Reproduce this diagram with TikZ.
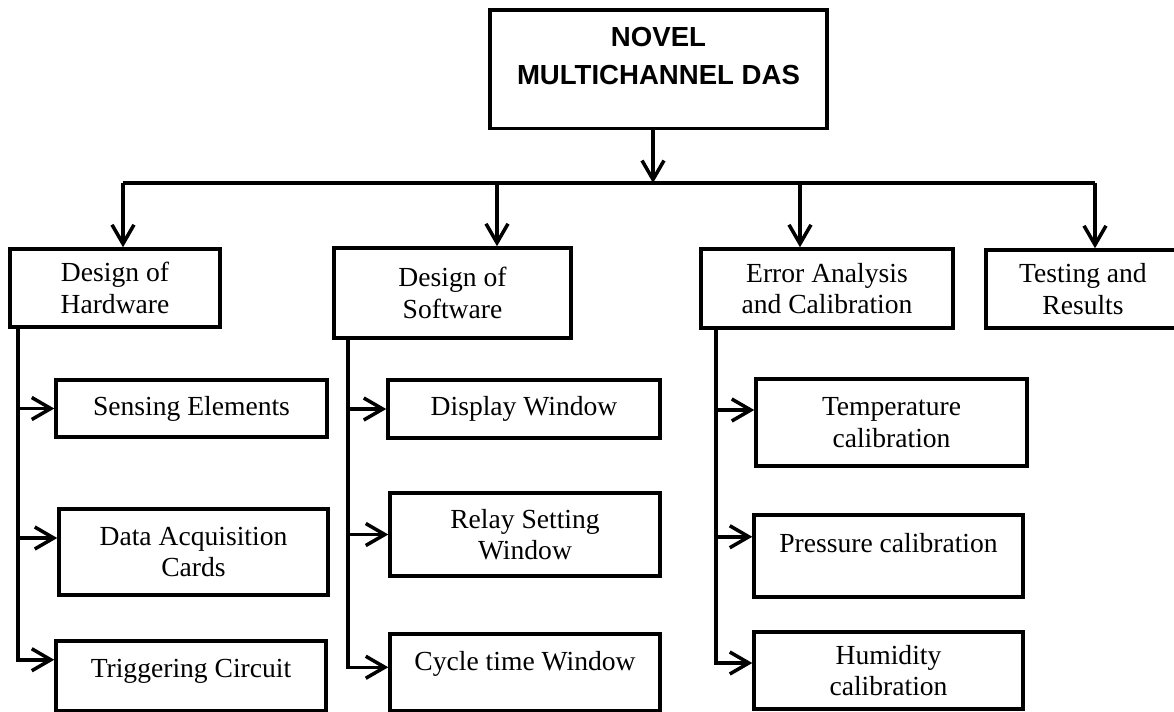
\documentclass[tikz,border=0pt]{standalone}
\usepackage{fontspec}
\setmainfont{Liberation Serif}
\newfontfamily\headfont{Liberation Sans}
\usetikzlibrary{arrows.meta}
\tikzset{
        % Plain boxes
        box/.style={draw, line width=2pt, align=center, inner sep=0pt, font=\fontsize{15.7}{18}\selectfont},
        % Title box
        box_title/.style={box, font=\headfont\bfseries\fontsize{15.7}{21.6}\selectfont},
        % Connectors
        link/.style={line width=2pt},
        link_arrow/.style={link, -{Straight Barb[length=3.8mm, width=4.4mm]}}
}
\begin{document}
\begin{tikzpicture}[x=0.02cm, y=-0.02cm]
    \useasboundingbox (0,0) rectangle (1174,711);
    % top box
    \node[box_title, anchor=north, minimum width=6.74cm, text height=1.5cm, text depth=0.88cm] (das) at (658.5,8) {NOVEL\\MULTICHANNEL DAS};
    % second row
    \node[box, minimum width=4.2cm, minimum height=1.56cm] (hw) at (115,288) {Design of\\Hardware};
    \node[box, minimum width=4.74cm, minimum height=1.8cm] (sw) at (452.5,293) {Design of\\Software};
    \node[box, minimum width=5.04cm, minimum height=1.58cm] (err) at (827,288.5) {Error Analysis\\and Calibration};
    \node[box, minimum width=3.88cm, minimum height=1.56cm] (test) at (1083,289) {Testing and\\Results};
    % hardware
    \node[box, minimum width=5.42cm, minimum height=1.14cm] (sens) at (191.5,408.5) {Sensing Elements};
    \node[box, minimum width=5.38cm, minimum height=1.72cm] (daq) at (193.5,552) {Data Acquisition\\Cards};
    \node[box, anchor=north, minimum width=5.4cm, text height=0.74cm, text depth=0.66cm] (trig) at (191,639) {Triggering Circuit};
    % software
    \node[box, minimum width=5.44cm, minimum height=1.16cm] (disp) at (524,409) {Display Window};
    \node[box, minimum width=5.4cm, minimum height=1.66cm] (relay) at (525,534.5) {Relay Setting\\Window};
    \node[box, anchor=north, minimum width=5.4cm, text height=0.74cm, text depth=0.8cm] (cycle) at (525,632) {Cycle time Window};
    % calibration
    \node[box, minimum width=5.42cm, minimum height=1.74cm] (temp) at (891.5,422.5) {Temperature\\calibration};
    \node[box, anchor=north, minimum width=5.38cm, text height=0.76cm, text depth=0.88cm] (press) at (888.5,513) {Pressure calibration};
    \node[box, minimum width=5.38cm, minimum height=1.54cm] (humid) at (888.5,670.5) {Humidity\\calibration};

    % bus
    \coordinate (b0) at (653,183);
    \coordinate (b1) at (123,183);
    \coordinate (b2) at (497,183);
    \coordinate (b3) at (800,183);
    \coordinate (b4) at (1095,183);
    \draw[link_arrow] (das.south -| b0) -- (b0);
    \draw[link] (b1) -- (b4);
    \draw[link_arrow] (b1) -- (b1 |- hw.north);
    \draw[link_arrow] (b2) -- (b2 |- sw.north);
    \draw[link_arrow] (b3) -- (b3 |- err.north);
    \draw[link_arrow] (b4) -- (b4 |- test.north);

    % spines
    \coordinate (hwx) at (18,0);
    \coordinate (swx) at (348,0);
    \coordinate (errx) at (716,0);
    \draw[link_arrow] (hw.south -| hwx) |- ([yshift=0.32cm]trig.west);
    \draw[link_arrow] (hwx |- sens.west) -- (sens.west);
    \draw[link_arrow] ([yshift=0.28cm]hwx |- daq.west) -- ([yshift=0.28cm]daq.west);
    \draw[link_arrow] (sw.south -| swx) |- ([yshift=0.1cm]cycle.west);
    \draw[link_arrow] (swx |- disp.west) -- (disp.west);
    \draw[link_arrow] (swx |- relay.west) -- (relay.west);
    \draw[link_arrow] (err.south -| errx) |- ([yshift=0.15cm]humid.west);
    \draw[link_arrow] ([yshift=0.25cm]errx |- temp.west) -- ([yshift=0.25cm]temp.west);
    \draw[link_arrow] ([yshift=0.38cm]errx |- press.west) -- ([yshift=0.38cm]press.west);
\end{tikzpicture}
\end{document}
